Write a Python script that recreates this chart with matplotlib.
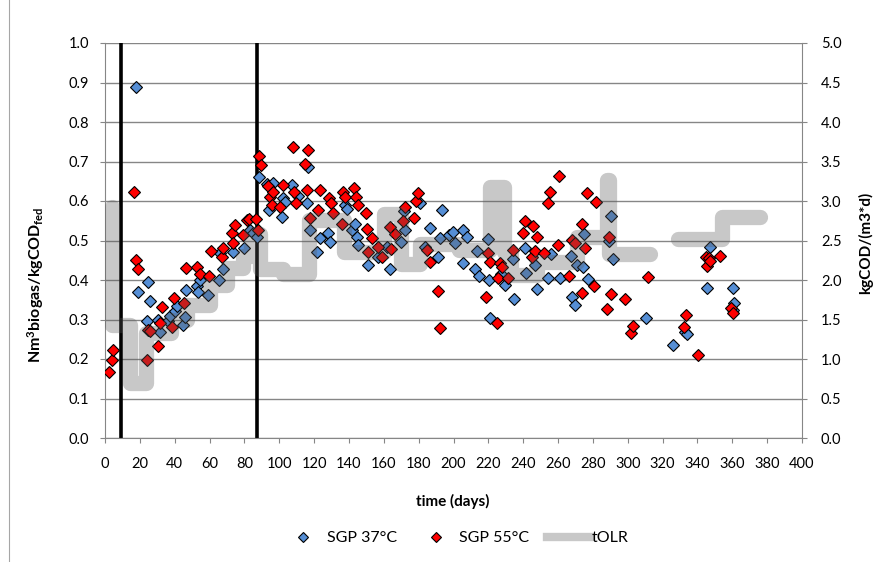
import numpy as np
import matplotlib
matplotlib.use('Agg')
import matplotlib.pyplot as plt
from matplotlib.lines import Line2D

plt.rcParams['font.family'] = ['Lato', 'DejaVu Sans']
plt.rcParams['mathtext.fontset'] = 'custom'
plt.rcParams['mathtext.rm'] = 'Lato'
plt.rcParams['mathtext.bf'] = 'Lato:bold'
plt.rcParams['mathtext.it'] = 'Lato:italic'

# ---------------- data ----------------
sgp37_day = [17.8, 19.1, 24.9, 25.6, 23.9, 30.6, 31.6, 36.0, 37.3, 40.2, 41.5, 44.9, 45.9, 46.5,
             52.6, 53.6, 54.5, 59.3, 65.6, 66.0, 67.9, 73.6, 79.8, 83.2, 85.1, 87.0, 88.6, 92.8,
             94.3, 96.6, 101.4, 102.4, 103.3, 107.6, 110.9, 115.7, 116.7, 117.6, 121.5, 123.4,
             128.1, 129.1, 137.7, 138.7, 141.6, 143.5, 144.4, 145.4, 151.2, 156.9, 161.6, 163.6,
             170.1, 171.4, 172.0, 180.8, 183.6, 186.5, 191.3, 192.3, 193.2, 197.6, 199.9, 200.9,
             205.3, 205.7, 207.5, 212.3, 213.7, 214.8, 220.0, 220.6, 221.0, 227.5, 229.4, 234.2,
             234.6, 240.9, 241.5, 246.7, 247.7, 254.0, 255.9, 261.1, 267.2, 267.8, 269.7, 270.7,
             274.5, 275.1, 277.4, 289.4, 290.2, 291.3, 310.5, 326.2, 332.9, 333.8, 345.4, 347.3,
             360.2, 360.2, 361.0]
sgp37_val = [0.888, 0.370, 0.396, 0.348, 0.296, 0.298, 0.269, 0.297, 0.310, 0.321, 0.335, 0.286, 0.306, 0.375,
             0.386, 0.370, 0.400, 0.362, 0.400, 0.468, 0.428, 0.472, 0.480, 0.526, 0.518, 0.510, 0.661, 0.643,
             0.576, 0.645, 0.560, 0.607, 0.598, 0.640, 0.612, 0.594, 0.687, 0.527, 0.472, 0.506,
             0.518, 0.497, 0.589, 0.581, 0.527, 0.543, 0.510, 0.489, 0.438, 0.459, 0.484, 0.429,
             0.497, 0.574, 0.527, 0.594, 0.484, 0.532, 0.459, 0.506, 0.577, 0.514, 0.522, 0.494,
             0.444, 0.527, 0.508, 0.427, 0.474, 0.410, 0.503, 0.400, 0.303, 0.415, 0.387, 0.452,
             0.351, 0.480, 0.418, 0.437, 0.376, 0.406, 0.466, 0.405, 0.460, 0.358, 0.337, 0.437,
             0.433, 0.516, 0.403, 0.499, 0.562, 0.454, 0.303, 0.235, 0.269, 0.263, 0.380, 0.484,
             0.381, 0.324, 0.342]

sgp55_day = [2.5, 3.8, 4.8, 16.6, 17.8, 18.8, 23.9, 24.9, 25.8, 30.6, 31.6, 32.5, 38.3, 39.6,
             45.2, 46.5, 52.6, 54.5, 59.7, 60.6, 66.9, 67.7, 72.7, 73.6, 74.6, 79.4, 81.3, 82.8,
             86.7, 88.0, 88.6, 89.5, 93.7, 94.7, 95.6, 96.6, 100.4, 102.3, 107.7, 108.6, 109.6,
             114.8, 115.7, 116.7, 117.6, 122.4, 123.4, 128.7, 129.8, 130.7, 135.8, 136.3, 138.0,
             143.0, 144.0, 145.4, 149.8, 150.6, 151.2, 153.1, 156.9, 158.8, 163.4, 164.4, 166.3,
             171.0, 172.0, 177.4, 178.5, 179.8, 184.6, 186.5, 191.3, 192.3, 218.6, 220.0, 221.0,
             224.8, 225.3, 226.7, 227.7, 231.5, 234.4, 240.0, 241.3, 245.2, 245.8, 246.7, 248.2,
             252.1, 254.0, 255.3, 259.7, 260.5, 266.4, 267.8, 269.7, 273.5, 273.9, 275.4, 276.4,
             280.7, 281.5, 288.3, 289.4, 290.2, 298.4, 302.0, 303.2, 311.4, 332.5, 333.4, 340.1,
             345.0, 345.4, 346.4, 347.3, 352.7, 359.2, 360.2]
sgp55_val = [0.168, 0.197, 0.224, 0.624, 0.451, 0.427, 0.197, 0.273, 0.270, 0.234, 0.290, 0.331, 0.282, 0.354,
             0.341, 0.430, 0.434, 0.414, 0.409, 0.474, 0.458, 0.480, 0.518, 0.493, 0.539, 0.513, 0.552, 0.555,
             0.555, 0.526, 0.714, 0.690, 0.639, 0.611, 0.589, 0.623, 0.585, 0.640, 0.737, 0.623, 0.596,
             0.694, 0.627, 0.729, 0.556, 0.578, 0.628, 0.608, 0.594, 0.570, 0.543, 0.624, 0.611,
             0.634, 0.611, 0.590, 0.569, 0.528, 0.470, 0.506, 0.484, 0.459, 0.533, 0.479, 0.517,
             0.550, 0.585, 0.558, 0.600, 0.620, 0.476, 0.446, 0.373, 0.278, 0.358, 0.469, 0.446,
             0.292, 0.404, 0.442, 0.433, 0.404, 0.476, 0.518, 0.550, 0.459, 0.537, 0.474, 0.510,
             0.468, 0.594, 0.624, 0.488, 0.664, 0.410, 0.501, 0.493, 0.366, 0.541, 0.480, 0.620,
             0.385, 0.597, 0.326, 0.510, 0.365, 0.351, 0.265, 0.284, 0.407, 0.282, 0.311, 0.210,
             0.459, 0.436, 0.455, 0.447, 0.461, 0.328, 0.316]

tolr_day = [4, 4, 14.3, 23.5, 38, 47, 60, 70, 79, 84, 89, 102, 117, 137, 160, 170, 181, 203,
            221, 229, 233, 248, 271, 288, 289.5, 313, 313, 329, 354, 376]
tolr_val = [2.92, 1.43, 0.70, 1.33, 1.49, 1.68, 1.94, 2.15, 2.30, 2.58, 2.14, 2.08, 2.76, 2.35,
            2.84, 2.20, 2.45, 2.38, 3.18, 2.35, 2.06, 2.23, 2.55, 3.27, 2.33, 2.33, np.nan,
            2.52, 2.80, 2.80]

phase_days = [9, 87.5]
x_ticks = list(range(0, 401, 20))
left_ticks = [round(0.1 * i, 1) for i in range(11)]
right_ticks = [round(0.5 * i, 1) for i in range(11)]

# ---------------- figure ----------------
W, H = 888, 562
fig = plt.figure(figsize=(W / 100, H / 100), dpi=100)
ax = fig.add_axes([105 / W, 1 - 438 / H, 697 / W, 395 / H])
ax2 = ax.twinx()

gray = '#868686'
blue = '#558ED5'
red = '#FF0000'
tolr_color = '#5a5a5a'
tolr_alpha = 0.33

# chart-area border (left edge visible in the reference)
fig.add_artist(Line2D([8.5 / W, 8.5 / W], [0, 1], transform=fig.transFigure,
                      color='#a6a6a6', lw=0.8))

for d in phase_days:
    ax.axvline(d, color='black', lw=2.6, zorder=2.5)

ax.plot(sgp37_day, sgp37_val, ls='none', marker='D', ms=5.8, mfc=blue, mec='black',
        mew=0.8, zorder=3)
ax.plot(sgp55_day, sgp55_val, ls='none', marker='D', ms=5.8, mfc=red, mec='black',
        mew=0.8, zorder=3.1)

tl, = ax2.step(tolr_day, tolr_val, where='post', color=tolr_color, alpha=tolr_alpha, lw=11)
tl.set_solid_capstyle('round')
tl.set_solid_joinstyle('round')

ax.set_xlim(0, 400)
ax.set_ylim(0, 1.0)
ax2.set_ylim(0, 5.0)
ax.set_xticks(x_ticks)
ax.set_xticklabels([str(t) for t in x_ticks])
ax.set_yticks(left_ticks)
ax.set_yticklabels([f'{t:.1f}' for t in left_ticks])
ax2.set_yticks(right_ticks)
ax2.set_yticklabels([f'{t:.1f}' for t in right_ticks])

ax.grid(axis='y', color=gray, lw=1.0)
ax.set_axisbelow(True)

for s in ['top', 'right']:
    ax.spines[s].set_visible(False)
for s in ['top', 'left', 'bottom']:
    ax2.spines[s].set_visible(False)
for s in ['left', 'bottom']:
    ax.spines[s].set_color(gray)
ax2.spines['right'].set_color(gray)

ax.tick_params(axis='x', direction='out', length=3.6, color=gray, pad=10, labelsize=10.5)
ax.tick_params(axis='y', direction='out', length=3.6, color=gray, pad=8, labelsize=10.5)
ax2.tick_params(axis='y', direction='out', length=3.6, color=gray, pad=10, labelsize=10.5)

fig.text(453 / W, 1 - 501 / H, 'time (days)', ha='center', va='center',
         fontsize=11, fontweight='bold')
fig.text(36 / W, 1 - 285 / H, r'Nm$^{\mathbf{3}}$biogas/kgCOD$_{\mathbf{fed}}$',
         rotation=90, ha='center', va='center', fontsize=11.5, fontweight='bold')
fig.text(866 / W, 1 - 243 / H, 'kgCOD/(m3*d)', rotation=90, ha='center', va='center',
         fontsize=11, fontweight='bold')

handles = [
    Line2D([], [], ls='none', marker='D', ms=5, mfc=blue, mec='black', mew=0.8),
    Line2D([], [], ls='none', marker='D', ms=5, mfc=red, mec='black', mew=0.8),
    Line2D([], [], color=tolr_color, alpha=tolr_alpha, lw=6),
]
fig.legend(handles, ['SGP 37°C', 'SGP 55°C', 'tOLR'], loc='center',
           bbox_to_anchor=(455 / W, 1 - 538 / H), ncol=3, frameon=False,
           handlelength=2.7, handletextpad=0.1, columnspacing=1.1, fontsize=11.5,
           borderpad=0, borderaxespad=0)

fig.savefig('out.png', dpi=100)
